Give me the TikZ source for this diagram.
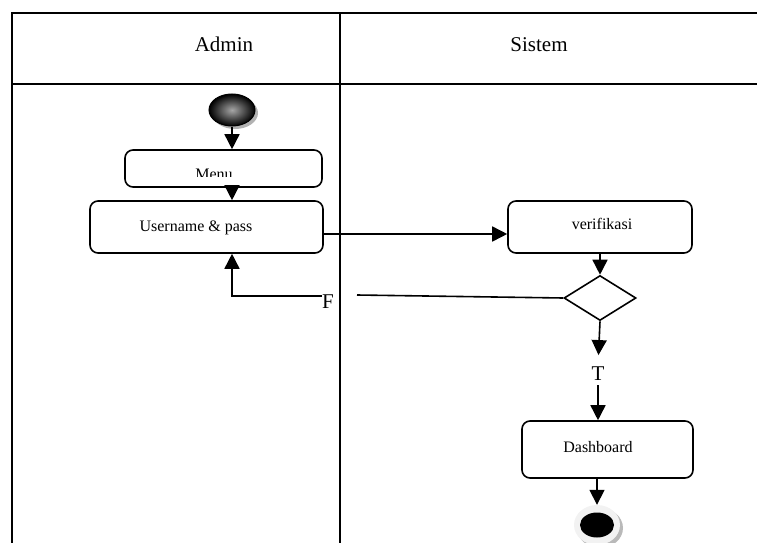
\documentclass[tikz,border=0pt]{standalone}
\usepackage{fontspec}
\setmainfont{Liberation Serif}
\usetikzlibrary{arrows.meta,shapes.geometric,shadows}
\begin{document}
\begin{tikzpicture}[x=1pt,y=-1pt,
  lane/.style={line width=2.2pt},
  actbox/.style={draw, line width=1.6pt, rounded corners=8pt, inner sep=0pt, fill=white},
  flow/.style={line width=1.6pt, -{Triangle[length=15pt,width=15pt]}},
  plain/.style={line width=1.6pt},
  big/.style={font=\fontsize{21}{25}\selectfont, inner sep=0pt},
  small/.style={font=\fontsize{16}{19}\selectfont, inner sep=0pt},
]
\useasboundingbox (0,0) rectangle (757,543);

% swimlane frame
\draw[lane] (757,13) -- (12,13) -- (12,546);
\draw[lane] (12,84) -- (757,84);
\draw[lane] (340,13) -- (340,546);
\node[big, anchor=base] (hadmin) at (224,52) {Admin};
\node[big, anchor=base] (hsistem) at (539,52) {Sistem};

% initial node
\node[ellipse, minimum width=46pt, minimum height=32pt, inner sep=0pt,
      draw=black, line width=1pt, shading=radial, inner color=gray!70, outer color=black,
      drop shadow={shadow xshift=3pt, shadow yshift=-3pt, fill=gray!60, opacity=1}]
      (start) at (232,110) {};

% activities
\node[actbox, minimum width=197pt, minimum height=37pt] (menu) at (223.5,168.5) {};
\begin{scope}
  \clip (100,150) rectangle (340,176);
  \node[small, anchor=base] (menutext) at (214,179) {Menu};
\end{scope}
\node[actbox, minimum width=233pt, minimum height=52pt] (user) at (206.5,227) {};
\node[small, anchor=base] (usertext) at (196,231) {Username \& pass};
\node[actbox, minimum width=184pt, minimum height=52pt] (verif) at (600,227) {};
\node[small, anchor=base] (veriftext) at (602,229) {verifikasi};
\node[actbox, minimum width=171pt, minimum height=57pt] (dash) at (607.5,449.5) {};
\node[small, anchor=base] (dashtext) at (598,452) {Dashboard};

% decision
\node[diamond, draw, line width=1.6pt, minimum width=72pt, minimum height=45pt, inner sep=0pt]
      (dec) at (600,298) {};

% final node
\node[ellipse, minimum width=46pt, minimum height=40pt, inner sep=0pt, fill=gray!10,
      drop shadow={shadow xshift=3pt, shadow yshift=-3pt, fill=gray!55, opacity=1}]
      (endn) at (597,525) {};
\node[ellipse, minimum width=34pt, minimum height=25pt, inner sep=0pt, fill=black]
      (endcore) at (597,525) {};

% flows
\draw[flow] (start.south) -- (start.south |- menu.north);
\draw[flow] (start |- menu.south) -- (start |- user.north);
\draw[flow] ([yshift=-7pt]user.east) -- ([yshift=-7pt]verif.west);
\draw[flow] (dec.north |- verif.south) -- (dec.north);

\coordinate (fgap) at (357,295);
\draw[plain] (dec.west) -- (fgap);
\node[big, anchor=base west] (flabel) at (322,308) {F};
\draw[flow] ([yshift=12pt]flabel.base west) -| (start |- user.south);

\node[big, anchor=base] (tlabel) at (598,380) {T};
\draw[flow, shorten >=11pt] (dec.south) -- (tlabel.north);
\draw[flow, shorten <=5pt] (tlabel.south) -- (tlabel.south |- dash.north);
\draw[flow] (endn.north |- dash.south) -- (endn.north);
\end{tikzpicture}
\end{document}
